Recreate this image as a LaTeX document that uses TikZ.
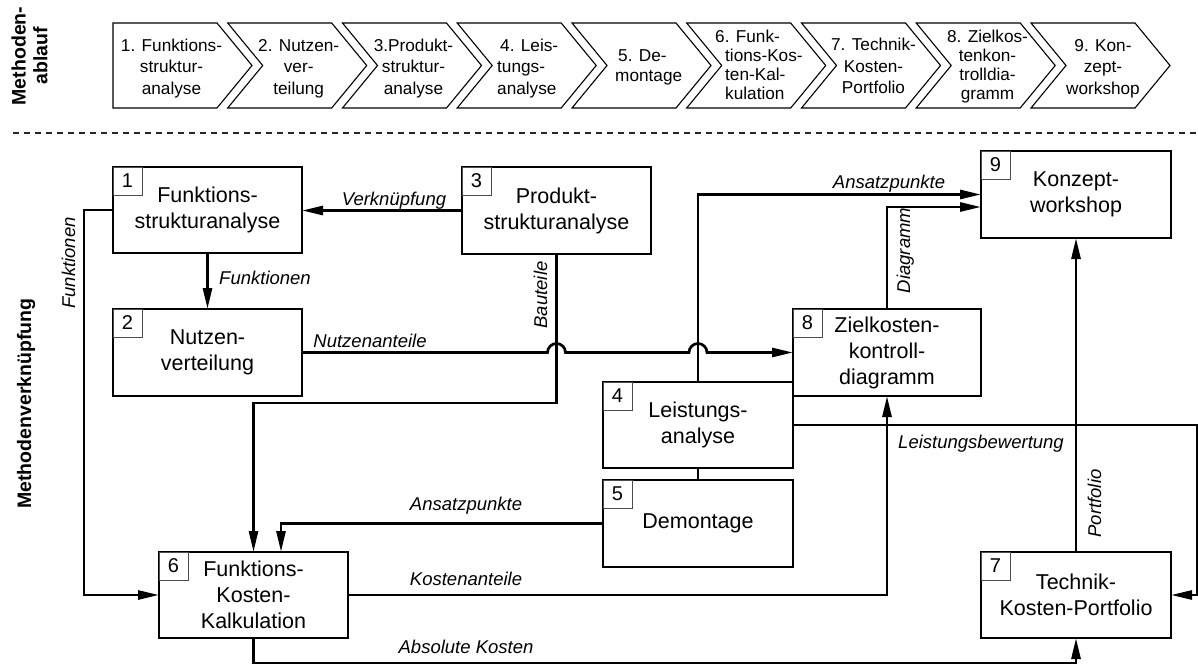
\documentclass[tikz,border=0pt]{standalone}
\usepackage{fontspec}
\setmainfont{Liberation Sans}
\usetikzlibrary{arrows.meta}
\tikzset{
  box/.style={draw=black, line width=1.4pt, fill=white, outer sep=0pt, inner sep=0pt,
    align=center, anchor=north west, font=\fontsize{21.5}{26}\selectfont},
  numsq/.style={draw=black!70, line width=1pt, outer sep=0pt, inner sep=0pt,
    minimum width=29pt, minimum height=28pt, anchor=north west, font=\fontsize{20}{24}\selectfont},
  conn/.style={line width=2.7pt, -{Triangle[length=21pt,width=9pt]}},
  plainconn/.style={line width=2.7pt},
  lbl/.style={font=\fontsize{18.5}{22}\selectfont\itshape, inner sep=0pt, anchor=base},
  vlbl/.style={lbl, rotate=90},
  chev/.style={draw=black, line width=1.1pt},
  chevtxt/.style={font=\fontsize{17.2}{21.3}\selectfont, inner sep=0pt, align=center},
  chevtxtf/.style={font=\fontsize{17.2}{19.1}\selectfont, inner sep=0pt, align=center},
  side/.style={font=\fontsize{19.5}{21.6}\selectfont\bfseries, inner sep=0pt, rotate=90, align=center},
  sep/.style={draw=black!85, line width=1.1pt, dash pattern=on 6pt off 5pt},
}
\begin{document}
\begin{tikzpicture}[x=1pt,y=-1pt]
\useasboundingbox (0,0) rectangle (1198,664);

% ---------- top row: chevrons ----------
\draw[chev] (113,23) -- (217,23) -- (252,65.5) -- (217,108) -- (113,108) -- cycle;
\foreach \L in {227.7,342.5,457.2,572,686.7,801.5,916.2,1031}{
  \draw[chev] (\L,23) -- ({\L+104},23) -- ({\L+139},65.5) -- ({\L+104},108)
    -- (\L,108) -- ({\L+35},65.5) -- cycle;
}
\node[chevtxt] (c1) at (171.5,68.5) {1. Funktions-\\struktur-\\analyse};
\node[chevtxt] (c2) at (298.7,68.5) {2. Nutzen-\\ver-\\teilung};
\node[chevtxt] (c3) at (413.5,68.5) {3.Produkt-\\struktur-\\analyse};
\node[chevtxt, align=left, anchor=west] (c4) at (497,68.5) {\hspace*{3pt}4. Leis-\\tungs-\\analyse};
\node[chevtxt, align=left, anchor=west, font=\fontsize{17.2}{20}\selectfont] (c5) at (615,67.2) {\hspace*{3pt}5. De-\\montage};
\node[chevtxtf, align=left, anchor=west] (c6) at (725,65.1) {\hspace*{-10pt}6. Funk-\\tions-Kos-\\ten-Kal-\\kulation};
\node[chevtxt] (c7) at (873.5,65.9) {7. Technik-\\Kosten-\\Portfolio};
\node[chevtxtf] (c8) at (987.5,66.7) {8. Zielkos-\\tenkon-\\trolldia-\\gramm};
\node[chevtxt] (c9) at (1103,68.5) {9. Kon-\\zept-\\workshop};

\node[side] (ma) at (29.5,56) {Methoden-\\ablauf};
\draw[sep] (13,133) -- (1198,133);
\node[side, anchor=base] (mv) at (31,403.5) {Methodenverknüpfung};

% ---------- boxes ----------
\node[box, minimum width=189pt, minimum height=86pt] (b1) at (113,167) {Funktions-\\strukturanalyse};
\node[box, minimum width=189pt, minimum height=87pt] (b2) at (113,309) {Nutzen-\\verteilung};
\node[box, minimum width=189pt, minimum height=87pt] (b3) at (462,167) {Produkt-\\strukturanalyse};
\node[box, minimum width=188pt, minimum height=87pt] (b8) at (793,309) {Zielkosten-\\kontroll-\\diagramm};
\node[box, minimum width=190pt, minimum height=86pt] (b4) at (603,382) {Leistungs-\\analyse};
\node[box, minimum width=190pt, minimum height=87pt] (b5) at (603,480) {Demontage};
\node[box, minimum width=189pt, minimum height=86pt] (b6) at (159,552) {Funktions-\\Kosten-\\Kalkulation};
\node[box, minimum width=190pt, minimum height=86pt] (b7) at (981,552) {Technik-\\Kosten-Portfolio};
\node[box, minimum width=190pt, minimum height=87pt] (b9) at (981,151) {Konzept-\\workshop};

\node[numsq] (n1) at (b1.north west) {1};
\node[numsq] (n2) at (b2.north west) {2};
\node[numsq] (n3) at (b3.north west) {3};
\node[numsq] (n4) at (b4.north west) {4};
\node[numsq] (n5) at (b5.north west) {5};
\node[numsq] (n6) at (b6.north west) {6};
\node[numsq] (n7) at (b7.north west) {7};
\node[numsq] (n8) at (b8.north west) {8};
\node[numsq] (n9) at (b9.north west) {9};

% ---------- connectors ----------
\draw[conn] (b3.west) -- (b3.west -| b1.east);
\draw[conn] (b1.south) -- (b2.north);
\draw[conn] (b1.west) -- ++(-29,0) |- (b6.west);
\draw[conn] (b3.south) -- ++(0,149) -| (b6.north);
\draw[conn] (b2.east) -- (547.5,352.5)
  .. controls (547.5,347.53) and (551.53,343.5) .. (556.5,343.5)
  .. controls (561.47,343.5) and (565.5,347.53) .. (565.5,352.5)
  -- (689,352.5)
  .. controls (689,347.53) and (693.03,343.5) .. (698,343.5)
  .. controls (702.97,343.5) and (707,347.53) .. (707,352.5)
  -- (b8.west);
\draw[conn] (b4.north) |- (b9.west);
\draw[conn] (b8.north) |- ([yshift=-12.5pt]b9.west);
\draw[conn] (b7.north) -- (b7.north |- b9.south);
\draw[conn] (b4.east) -- ++(404,0) |- (b7.east);
\draw[plainconn] (b4.south) -- (b5.north);
\draw[conn] (b5.west) -| ([xshift=27.5pt]b6.north);
\draw[conn] (b6.east) -| (b8.south);
\draw[conn] (b6.south) -- ++(0,25) -| (b7.south);

% ---------- labels ----------
\node[lbl] (lv) at (394,205) {Verknüpfung};
\node[lbl] (lf) at (265,284) {Funktionen};
\node[lbl] (ln) at (370,347) {Nutzenanteile};
\node[lbl] (la1) at (889,188.3) {Ansatzpunkte};
\node[lbl] (ll) at (981,448) {Leistungsbewertung};
\node[lbl] (la2) at (466,510) {Ansatzpunkte};
\node[lbl] (lk) at (466,585) {Kostenanteile};
\node[lbl] (labs) at (466,653) {Absolute Kosten};
\node[vlbl] (lf2) at (75,263) {Funktionen};
\node[vlbl] (lb) at (547,295) {Bauteile};
\node[vlbl] (ld) at (910,250.5) {Diagramm};
\node[vlbl] (lp) at (1101,503.5) {Portfolio};
\end{tikzpicture}
\end{document}
